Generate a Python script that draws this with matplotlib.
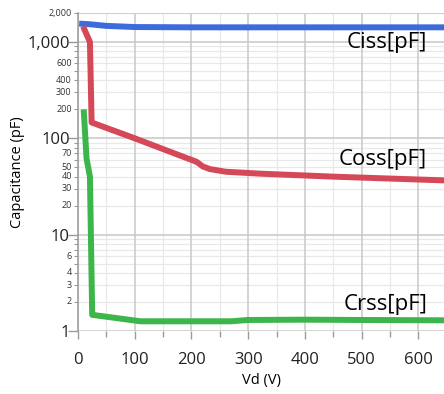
import numpy as np
import matplotlib
matplotlib.use('Agg')
import matplotlib.pyplot as plt
from matplotlib.ticker import FixedLocator, NullFormatter

plt.rcParams['font.family'] = ['Open Sans', 'DejaVu Sans']

# ------------------------------------------------------- #
# data
vd_ciss = [2, 20, 50, 100, 200, 400, 650]
ciss = [1550, 1530, 1470, 1430, 1420, 1420, 1420]

vd_coss = [9, 21, 24, 100, 209, 220, 232, 260, 320, 450, 650]
coss = [1450, 1000, 146, 100, 57, 51, 48, 45, 43, 40, 36.5]

vd_crss = [10, 15, 21, 25, 60, 110, 200, 270, 300, 400, 500, 650]
crss = [200, 62, 40, 1.47, 1.38, 1.26, 1.26, 1.26, 1.3, 1.31, 1.3, 1.29]

x_major = [0, 100, 200, 300, 400, 500, 600]
x_minor = [50, 150, 250, 350, 450, 550, 650]
y_major = [1, 10, 100, 1000]
y_minor = [2, 3, 4, 6, 20, 30, 40, 50, 70, 200, 300, 400, 600, 2000]
y_minor_all = [m * d for d in (1, 10, 100, 1000) for m in range(2, 10)]


def main():
    fig = plt.figure(figsize=(4.44, 3.94), dpi=100)
    ax = fig.add_axes([0.1757, 0.160, 0.8243, 0.807])

    ax.set_yscale('log')
    ax.set_xlim(0, 645)
    ax.set_ylim(1, 2000)

    # grid
    for y in y_minor_all:
        if y <= 2000:
            ax.axhline(y, color='#e8e8e8', lw=0.9, zorder=0)
    for y in y_major:
        ax.axhline(y, color='#c8c8c8', lw=1.1, zorder=0.5)
    ax.axhline(2000, color='#c8c8c8', lw=1.1, zorder=0.5)
    for x in x_minor:
        ax.axvline(x, color='#e8e8e8', lw=0.9, zorder=0)
    for x in x_major:
        ax.axvline(x, color='#c8c8c8', lw=1.1, zorder=0.5)

    ax.plot(vd_ciss, ciss, color='#3d6bdc', lw=4.3, solid_capstyle='butt', zorder=3)
    ax.plot(vd_coss, coss, color='#d54858', lw=4.3, solid_capstyle='butt',
            solid_joinstyle='round', zorder=3)
    ax.plot(vd_crss, crss, color='#3cb54a', lw=4.3, solid_capstyle='butt',
            solid_joinstyle='round', zorder=3)

    ax.text(0.954, 0.906, 'Ciss[pF]', transform=ax.transAxes, ha='right',
            va='center', fontsize=16)
    ax.text(0.954, 0.538, 'Coss[pF]', transform=ax.transAxes, ha='right',
            va='center', fontsize=16)
    ax.text(0.954, 0.082, 'Crss[pF]', transform=ax.transAxes, ha='right',
            va='center', fontsize=16)

    for s in ('top', 'right', 'bottom'):
        ax.spines[s].set_visible(False)
    ax.spines['left'].set_color('#9a9a9a')
    ax.spines['left'].set_linewidth(1.1)

    ax.xaxis.set_major_locator(FixedLocator(x_major))
    ax.xaxis.set_minor_locator(FixedLocator(x_minor))
    ax.set_xticklabels([str(v) for v in x_major])
    ax.tick_params(axis='x', which='major', length=6, width=1, color='#9a9a9a',
                   labelsize=12, pad=9, labelcolor='#222222')
    ax.tick_params(axis='x', which='minor', length=4, width=1, color='#9a9a9a')

    ax.yaxis.set_major_locator(FixedLocator(y_major))
    ax.yaxis.set_minor_locator(FixedLocator([v for v in y_minor_all if v <= 2000]))
    ax.set_yticklabels(['1', '10', '100', '1,000'])
    ax.yaxis.set_minor_formatter(NullFormatter())
    ax.tick_params(axis='y', which='major', length=7, width=1, color='#9a9a9a',
                   labelsize=12, pad=-1, labelcolor='#222222')
    ax.tick_params(axis='y', which='minor', length=3, width=0.8, color='#9a9a9a')
    for y in y_minor:
        lab = '2,000' if y == 2000 else str(y)
        ax.annotate(lab, xy=(0, y), xycoords=('axes fraction', 'data'),
                    xytext=(-4.5, 0), textcoords='offset points', ha='right',
                    va='center', fontsize=6.5, color='#333333')

    ax.set_xlabel('Vd (V)', fontsize=10.5, labelpad=4)
    ax.set_ylabel('Capacitance (pF)', fontsize=10.5)
    ax.yaxis.set_label_coords(-0.145, 0.5)

    fig.savefig('out.png', dpi=100)


if __name__ == '__main__':
    main()
